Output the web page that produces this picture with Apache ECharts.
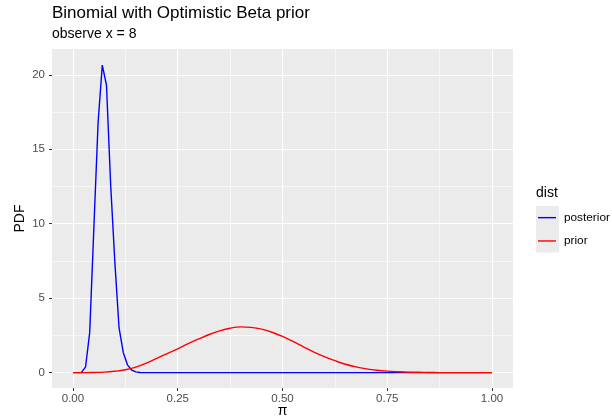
<!DOCTYPE html>
<html>
<head>
<meta charset="utf-8">
<script src="https://cdn.jsdelivr.net/npm/echarts@6/dist/echarts.min.js"></script>
<style>html,body{margin:0;padding:0;background:#fff}#c{width:612px;height:419px}</style>
</head>
<body>
<div id="c"></div>
<script>
// ---- data ----
const postPi  = [0.00,0.01,0.02,0.03,0.04,0.05,0.06,0.07,0.08,0.09,0.10,0.11,0.12,0.13,0.14,0.15,0.16,0.17,0.18,0.19,0.20,1.00];
const postPdf = [0,0,0.01,0.37,2.7,9.8,16.8,20.65,19.3,12.6,7.4,3.0,1.35,0.52,0.17,0.05,0.01,0,0,0,0,0];
const priorPi  = [0,0.025,0.05,0.075,0.1,0.125,0.15,0.175,0.2,0.225,0.25,0.275,0.3,0.325,0.35,0.375,0.4,0.425,0.45,0.475,0.5,0.525,0.55,0.575,0.6,0.625,0.65,0.675,0.7,0.725,0.75,0.775,0.8,0.825,0.85,0.875,0.9,0.925,0.95,0.975,1.0];
const priorPdf = [0,0,0.01,0.03,0.09,0.19,0.37,0.64,0.96,1.28,1.59,1.94,2.26,2.56,2.80,2.98,3.07,3.04,2.92,2.71,2.43,2.09,1.73,1.38,1.07,0.80,0.56,0.38,0.25,0.16,0.10,0.06,0.03,0.02,0.01,0,0,0,0,0,0];
const xTicks = [0, 0.25, 0.5, 0.75, 1.0];
const xMinor = [0.125, 0.375, 0.625, 0.875];
const yTicks = [0, 5, 10, 15, 20];
const yMinor = [2.5, 7.5, 12.5, 17.5];
const seriesNames = ['posterior', 'prior'];

const FONT = 'Liberation Sans, Arial, sans-serif';
const chart = echarts.init(document.getElementById('c'), null, {renderer: 'canvas'});

const xMin = -0.05, xMax = 1.05;
const yMin = -1.035, yMax = 21.735;

function baseAxis(extra) {
  return Object.assign({
    type: 'value',
    axisLine: {show: false, onZero: false},
  }, extra);
}

const option = {
  animation: false,
  backgroundColor: '#ffffff',
  title: [
    {text: 'Binomial with Optimistic Beta prior', left: 52, top: 5, padding: 0,
     textStyle: {fontFamily: FONT, fontSize: 17, fontWeight: 'normal', color: '#000'}},
    {text: 'observe x = 8', left: 52, top: 27, padding: 0,
     textStyle: {fontFamily: FONT, fontSize: 14, fontWeight: 'normal', color: '#000'}},
    {text: 'dist', left: 536, top: 186, padding: 0,
     textStyle: {fontFamily: FONT, fontSize: 14, fontWeight: 'normal', color: '#000'}}
  ],
  grid: [{left: 52, right: 99, top: 49, bottom: 31, outerBoundsMode: 'none', containLabel: false,
          show: true, backgroundColor: '#EBEBEB', borderWidth: 0}],
  xAxis: [
    baseAxis({min: xMin, max: xMax, position: 'bottom',
      name: 'π', nameLocation: 'middle', nameGap: 16, nameMoveOverlap: false,
      nameTextStyle: {fontFamily: FONT, fontSize: 14, color: '#000'},
      axisTick: {show: true, length: 3, lineStyle: {color: '#333333', width: 1}, customValues: xTicks},
      axisLabel: {show: true, customValues: xTicks, margin: 5, fontFamily: FONT, fontSize: 11.5, color: '#4D4D4D',
        formatter: v => v.toFixed(2)},
      splitLine: {show: true, lineStyle: {color: '#ffffff', width: 1.2}}
    }),
    baseAxis({min: xMin, max: xMax, position: 'bottom',
      axisTick: {show: false, customValues: xMinor},
      axisLabel: {show: false, customValues: xMinor},
      splitLine: {show: true, lineStyle: {color: '#ffffff', width: 0.6}}
    })
  ],
  yAxis: [
    baseAxis({min: yMin, max: yMax, position: 'left',
      name: 'PDF', nameLocation: 'middle', nameGap: 25, nameRotate: 90, nameMoveOverlap: false,
      nameTextStyle: {fontFamily: FONT, fontSize: 14, color: '#000'},
      axisTick: {show: true, length: 3, lineStyle: {color: '#333333', width: 1}, customValues: yTicks},
      axisLabel: {show: true, customValues: yTicks, margin: 7, fontFamily: FONT, fontSize: 11.5, color: '#4D4D4D'},
      splitLine: {show: true, lineStyle: {color: '#ffffff', width: 1.2}}
    }),
    baseAxis({min: yMin, max: yMax, position: 'left',
      axisTick: {show: false, customValues: yMinor},
      axisLabel: {show: false, customValues: yMinor},
      splitLine: {show: true, lineStyle: {color: '#ffffff', width: 0.6}}
    })
  ],
  legend: {
    orient: 'vertical', left: 538, top: 206, padding: 0,
    itemWidth: 18, itemHeight: 1.4, itemGap: 0, icon: 'rect',
    data: seriesNames,
    textStyle: {fontFamily: FONT, fontSize: 11.8, lineHeight: 23.3, color: '#000', padding: [0, 0, 0, 3]}
  },
  graphic: [
    {type: 'rect', left: 536, top: 206, z: -1, shape: {width: 23, height: 46.6}, style: {fill: '#EBEBEB'}}
  ],
  series: [
    {name: seriesNames[0], type: 'line', xAxisIndex: 0, yAxisIndex: 0, symbol: 'none',
     lineStyle: {color: '#0000FF', width: 1.4}, itemStyle: {color: '#0000FF'},
     data: postPi.map((p, i) => [p, postPdf[i]])},
    {name: seriesNames[1], type: 'line', xAxisIndex: 0, yAxisIndex: 0, symbol: 'none',
     smooth: 0.4,
     lineStyle: {color: '#FF0000', width: 1.4}, itemStyle: {color: '#FF0000'},
     data: priorPi.map((p, i) => [p, priorPdf[i]])}
  ]
};
chart.setOption(option);
</script>
</body>
</html>
